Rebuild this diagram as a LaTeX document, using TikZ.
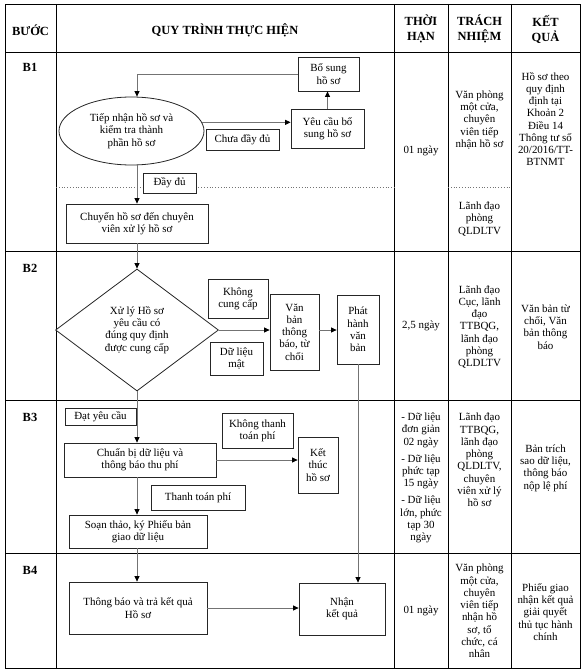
\documentclass[tikz,border=0pt]{standalone}
\usepackage{fontspec}
\setmainfont{Liberation Serif}
\usetikzlibrary{shapes.geometric,arrows.meta}
\newcommand\myfs{\fontsize{11}{12.3}\selectfont}
\newcommand\myhd{\fontsize{12.5}{15}\selectfont\bfseries}
\begin{document}
\begin{tikzpicture}[x=1bp,y=-1bp,
  grid/.style={draw=black,line width=0.9bp},
  dots/.style={draw=black!55,line width=0.8bp,dotted},
  box/.style={draw=black!85,line width=0.8bp,inner sep=0pt,align=center,font=\myfs,fill=white},
  txt/.style={inner sep=0pt,align=center,font=\myfs},
  hd/.style={inner sep=0pt,align=center,font=\myhd},
  conn/.style={draw=black!55,line width=0.8bp,-{Triangle[length=5.5bp,width=5bp,color=black]}},
  plain/.style={draw=black!55,line width=0.8bp}]
\useasboundingbox (0,0) rectangle (584,672);
% table grid
\draw[grid] (5,4) rectangle (580,668);
\foreach \yy in {52,251,400,553} \draw[grid] (5,\yy) -- (580,\yy);
\foreach \xx in {56,394,448,511} \draw[grid] (\xx,4) -- (\xx,668);
\draw[dots] (56,187) -- (394,187);
\draw[dots] (448,187) -- (511,187);
% headers
\node[hd] (h1) at (30.5,30) {BƯỚC};
\node[hd] (h2) at (225,30) {QUY TRÌNH THỰC HIỆN};
\node[hd] (h3) at (421,29) {THỜI\\HẠN};
\node[hd] (h4) at (479.5,29) {TRÁCH\\NHIỆM};
\node[hd] (h5) at (545.5,29) {KẾT\\QUẢ};
% step labels
\node[hd] (s1) at (30,67) {B1};
\node[hd] (s2) at (30,268) {B2};
\node[hd] (s3) at (30,417) {B3};
\node[hd] (s4) at (30,570) {B4};
\coordinate (ax) at (137,0);
% B1
\node[box,ellipse,minimum width=145bp,minimum height=68bp] (e) at (131.5,131) {Tiếp nhận hồ sơ và\\kiểm tra thành\\phần hồ sơ};
\node[box,minimum width=61bp,minimum height=34bp] (bs) at (328.5,74) {Bổ sung\\hồ sơ};
\node[box,minimum width=73bp,minimum height=39bp] (yc) at (327.5,128.5) {Yêu cầu bổ\\sung hồ sơ};
\node[box,minimum width=73bp,minimum height=21bp] (cdd) at (242.5,139.5) {Chưa đầy đủ};
\node[box,minimum width=142bp,minimum height=39bp] (cv) at (137,223.5) {Chuyển hồ sơ đến chuyên\\viên xử lý hồ sơ};
\draw[conn] (e.7) -- (e.7 -| yc.west);
\draw[conn] (yc.north) -- (yc.north |- bs.south);
\draw[conn] (bs.west) -| (ax |- e.north);
\draw[conn] (ax |- e.south) -- (ax |- cv.north);
\node[box,minimum width=53bp,minimum height=20bp] (dd) at (169.5,183) {Đầy đủ};
% B2
\node[box,diamond,minimum width=163bp,minimum height=122bp] (dm) at (137,330) {Xử lý Hồ sơ\\yêu cầu có\\đúng quy định\\được cung cấp};
\node[box,minimum width=60bp,minimum height=39bp] (kcc) at (238,298.5) {Không\\cung cấp};
\node[box,minimum width=53bp,minimum height=33bp] (dlm) at (236.5,358.5) {Dữ liệu\\mật};
\node[box,minimum width=49bp,minimum height=76bp] (vb) at (294.5,332) {Văn\\bản\\thông\\báo, từ\\chối};
\node[box,minimum width=42bp,minimum height=69bp] (ph) at (358,329.5) {Phát\\hành\\văn\\bản};
\draw[conn] (ax |- cv.south) -- (ax |- dm.north);
\draw[conn] (dm.east) -- (dm.east -| vb.west);
\draw[conn] (dm.east -| vb.east) -- (dm.east -| ph.west);
% B3
\node[box,minimum width=71bp,minimum height=17bp] (dyc) at (100.5,416.5) {Đạt yêu cầu};
\node[box,minimum width=152bp,minimum height=34bp] (cb) at (140,460) {Chuẩn bị dữ liệu và\\thông báo thu phí};
\node[box,minimum width=71bp,minimum height=35bp] (ktp) at (257.5,430.5) {Không thanh\\toán phí};
\node[box,minimum width=40bp,minimum height=56bp] (kt) at (318,465) {Kết\\thúc\\hồ sơ};
\node[box,minimum width=94bp,minimum height=25bp] (ttp) at (198,497.5) {Thanh toán phí};
\node[box,minimum width=138bp,minimum height=33bp] (st) at (138,531.5) {Soạn thảo, ký Phiếu bản\\giao dữ liệu};
\draw[conn] (ax |- dm.south) -- (ax |- cb.north);
\draw[conn] (cb.east) -- (cb.east -| kt.west);
\draw[conn] (ax |- cb.south) -- (ax |- st.north);
% B4
\node[box,minimum width=138bp,minimum height=52bp] (tb) at (138,608) {Thông báo và trả kết quả\\Hồ sơ};
\node[box,minimum width=86bp,minimum height=52bp] (nk) at (342,609) {Nhận\\kết quả};
\draw[conn] (ax |- st.south) -- (ax |- tb.north);
\draw[conn] (tb.east) -- (tb.east -| nk.west);
\draw[conn] (ph.south) -- (ph.south |- nk.north);
% right columns
\node[txt] (t1) at (421,151) {01 ngày};
\node[txt] (t2) at (421,326) {2,5 ngày};
\node[txt] (t3) at (421,478) {- Dữ liệu\\đơn giản\\02 ngày\\[5pt]- Dữ liệu\\phức tạp\\15 ngày\\[5pt]- Dữ liệu\\lớn, phức\\tạp 30\\ngày};
\node[txt] (t4) at (421,611) {01 ngày};
\node[txt] (r1a) at (479.5,120) {Văn phòng\\một cửa,\\chuyên\\viên tiếp\\nhận hồ sơ};
\node[txt] (r1b) at (479.5,219) {Lãnh đạo\\phòng\\QLDLTV};
\node[txt] (r2) at (479.5,327) {Lãnh đạo\\Cục, lãnh\\đạo\\TTBQG,\\lãnh đạo\\phòng\\QLDLTV};
\node[txt] (r3) at (479.5,460) {Lãnh đạo\\TTBQG,\\lãnh đạo\\phòng\\QLDLTV,\\chuyên\\viên xử lý\\hồ sơ};
\node[txt] (r4) at (479.5,611) {Văn phòng\\một cửa,\\chuyên\\viên tiếp\\nhận hồ\\sơ, tổ\\chức, cá\\nhân};
\node[txt] (k1) at (545.5,119) {Hồ sơ theo\\quy định\\định tại\\Khoản 2\\Điều 14\\Thông tư số\\20/2016/TT-\\BTNMT};
\node[txt] (k2) at (545.5,327) {Văn bản từ\\chối, Văn\\bản thông\\báo};
\node[txt] (k3) at (545.5,468) {Bản trích\\sao dữ liệu,\\thông báo\\nộp lệ phí};
\node[txt] (k4) at (545.5,612) {Phiếu giao\\nhận kết quả\\giải quyết\\thủ tục hành\\chính};
\end{tikzpicture}
\end{document}
